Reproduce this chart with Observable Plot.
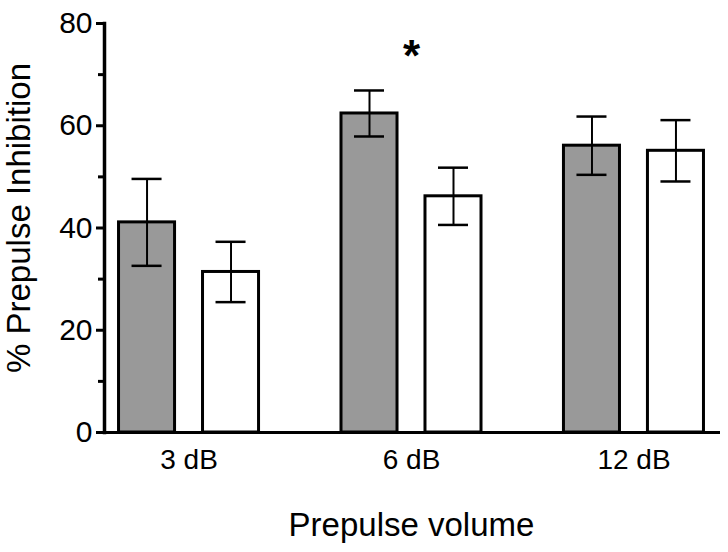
<!DOCTYPE html>
<html>
<head>
<meta charset="utf-8">
<script src="https://cdn.jsdelivr.net/npm/d3@7"></script>
<script src="https://cdn.jsdelivr.net/npm/@observablehq/plot@0.6"></script>
<style>
  html, body { margin: 0; padding: 0; background: #fff; }
  #chart { width: 728px; height: 552px; }
</style>
</head>
<body>
<div id="chart"></div>
<script>
// Categories
const levels = ["3 dB", "6 dB", "12 dB"];
const series = ["Group 1", "Group 2"];
// Series values (mean % PPI and error)
const means1 = [41.1, 62.4, 56.1];
const errs1 = [8.5, 4.5, 5.7];
const means2 = [31.4, 46.2, 55.1];
const errs2 = [5.9, 5.6, 6.0];
// Tick labels
const yTicks = [0, 20, 40, 60, 80];
const yMinorTicks = [10, 30, 50, 70];
// Axis titles
const yTitle = ["% Prepulse Inhibition"];
const xTitle = "Prepulse volume";
// Annotation
const starLevel = ["6 dB"];
const starY = [73.5];
const starText = ["*"];

const data = levels.flatMap((lv, i) => [
  {level: lv, series: series[0], mean: means1[i], err: errs1[i]},
  {level: lv, series: series[1], mean: means2[i], err: errs2[i]}
]);
const stars = starLevel.map((lv, i) => ({level: lv, y: starY[i], text: starText[i]}));

const chart = Plot.plot({
  width: 728,
  height: 552,
  marginLeft: 104,
  marginRight: 10,
  marginTop: 23,
  marginBottom: 120,
  style: {fontFamily: "'Liberation Sans', Arial, sans-serif", color: "black", background: "white"},
  fx: {domain: levels, paddingInner: 0.24, paddingOuter: 0, round: false},
  x: {domain: series, paddingInner: 0.333, paddingOuter: 0.173, round: false, axis: null},
  y: {domain: [0, 80]},
  color: {domain: series, range: ["#999999", "#ffffff"]},
  marks: [
    Plot.barY(data, {fx: "level", x: "series", y: "mean", fill: "series", stroke: "black", strokeWidth: 3}),
    Plot.ruleX(data, {fx: "level", x: "series", y1: d => d.mean - d.err, y2: d => d.mean + d.err, stroke: "black", strokeWidth: 2}),
    Plot.tickY(data, {fx: "level", x: "series", y: d => d.mean + d.err, stroke: "black", strokeWidth: 2.5, insetLeft: 13, insetRight: 13}),
    Plot.tickY(data, {fx: "level", x: "series", y: d => d.mean - d.err, stroke: "black", strokeWidth: 2.5, insetLeft: 13, insetRight: 13}),
    Plot.text(stars, {fx: "level", y: "y", text: "text", fontSize: 44, fontWeight: "bold", fill: "black"}),
    Plot.frame({anchor: "bottom", facet: "super", stroke: "black", strokeWidth: 3}),
    Plot.frame({anchor: "left", facet: "super", stroke: "black", strokeWidth: 3.5}),
    Plot.axisY({ticks: yTicks, tickSize: 8, tickPadding: 4, fontSize: 30, strokeWidth: 3, label: null}),
    Plot.axisY({ticks: yMinorTicks, tickSize: 6, text: null, strokeWidth: 3, label: null}),
    Plot.text(yTitle, {facet: "super", frameAnchor: "left", text: d => d, textAnchor: "middle", lineAnchor: "middle", rotate: -90, dx: -85, dy: -10, fontSize: 33, fill: "black"}),
    Plot.axisFx({anchor: "bottom", tickSize: 0, tickPadding: 17, fontSize: 28, label: null}),
    Plot.axisFx({anchor: "bottom", ticks: [], label: xTitle, labelAnchor: "center", labelArrow: "none", labelOffset: 103, fontSize: 33})
  ]
});
document.getElementById("chart").appendChild(chart);
</script>
</body>
</html>
